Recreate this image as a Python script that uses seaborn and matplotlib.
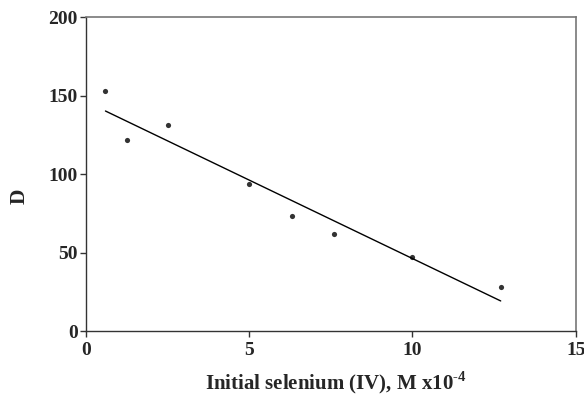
import matplotlib
matplotlib.use("Agg")
import matplotlib.pyplot as plt
import seaborn as sns
import pandas as pd

# Initial Se(IV) concentration (x10^-4 M) and distribution ratio D
selenium = [0.6, 1.25, 2.5, 5.0, 6.3, 7.6, 10.0, 12.7]
d_ratio = [153, 122, 131, 94, 73, 62, 47, 28]
x_ticks = [0, 5, 10, 15]
y_ticks = [0, 50, 100, 150, 200]

df = pd.DataFrame({"selenium": selenium, "D": d_ratio})

sns.set_style("ticks")
plt.rcParams["font.family"] = ["Liberation Serif", "DejaVu Serif"]
plt.rcParams["mathtext.fontset"] = "custom"
plt.rcParams["mathtext.rm"] = "Liberation Serif:bold"
plt.rcParams["mathtext.bf"] = "Liberation Serif:bold"

fig = plt.figure(figsize=(5.84, 3.97), dpi=100)
ax = fig.add_axes([0.147, 0.166, 0.839, 0.791])

sns.regplot(data=df, x="selenium", y="D", ax=ax, ci=None, truncate=True,
            color="black",
            scatter_kws={"s": 14, "linewidths": 0},
            line_kws={"linewidth": 1.0})

ax.set_xlim(0, 15)
ax.set_ylim(0, 200)
ax.set_xticks(x_ticks)
ax.set_yticks(y_ticks)
ax.set_xticklabels([str(t) for t in x_ticks], fontweight="bold", fontsize=14)
ax.set_yticklabels([str(t) for t in y_ticks], fontweight="bold", fontsize=14)
ax.tick_params(direction="out", length=4, width=1.0, color="#333333")
ax.tick_params(axis="x", pad=4)
ax.tick_params(axis="y", pad=2)

for side in ("left", "bottom"):
    ax.spines[side].set_color("#333333")
    ax.spines[side].set_linewidth(1.0)
for side in ("top", "right"):
    ax.spines[side].set_visible(True)
    ax.spines[side].set_color("#777777")
    ax.spines[side].set_linewidth(1.2)

ax.set_xlabel(r"Initial selenium (IV), M x10$^{\mathbf{\text{-}4}}$",
              fontweight="bold", fontsize=15)
ax.xaxis.set_label_coords(0.511, -0.122)
ax.set_ylabel("D", fontweight="bold", fontsize=15.5)
ax.yaxis.set_label_coords(-0.115, 0.43)

fig.savefig("out.png", dpi=100)
